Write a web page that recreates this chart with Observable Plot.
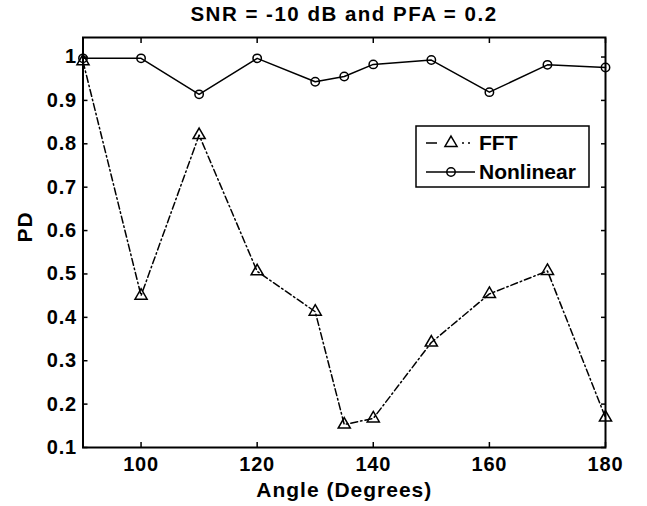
<!DOCTYPE html>
<html>
<head>
<meta charset="utf-8">
<script src="https://cdn.jsdelivr.net/npm/d3@7"></script>
<script src="https://cdn.jsdelivr.net/npm/@observablehq/plot@0.6"></script>
<style>
  html, body { margin: 0; padding: 0; background: #fff; }
  #wrap { position: relative; width: 647px; height: 506px; font-family: "Liberation Sans", Arial, sans-serif; font-weight: bold; color: #000; }
  #title { position: absolute; left: 44px; width: 600px; top: 0px; height: 28px; line-height: 27px; text-align: center; font-size: 20.5px; letter-spacing: 1.5px; white-space: nowrap; }
  #chart { position: absolute; left: 0; top: 28px; }
  #legend { position: absolute; left: 415px; top: 125px; }
  g[aria-label="x-axis tick label"] text, g[aria-label="y-axis tick label"] text { letter-spacing: 0.8px; }
  .axlabel text { letter-spacing: 1px; }
</style>
</head>
<body>
<div id="wrap">
  <div id="title"></div>
  <div id="chart"></div>
  <svg id="legend" width="176" height="64"></svg>
</div>
<script>
// ---- data ----
const angles = [90, 100, 110, 120, 130, 135, 140, 150, 160, 170, 180];
const fftPD = [0.99, 0.45, 0.82, 0.506, 0.413, 0.153, 0.167, 0.342, 0.454, 0.507, 0.169];
const nonlinearPD = [0.997, 0.997, 0.914, 0.997, 0.943, 0.955, 0.983, 0.993, 0.919, 0.982, 0.976];
const xTicks = [100, 120, 140, 160, 180];
const yTicks = [0.1, 0.2, 0.3, 0.4, 0.5, 0.6, 0.7, 0.8, 0.9, 1];
const seriesNames = ["FFT", "Nonlinear"];
const titleText = "SNR = -10 dB and PFA = 0.2";
const xLabel = "Angle (Degrees)";
const yLabel = "PD";

document.getElementById("title").textContent = titleText;

const fftData = angles.map((a, i) => ({angle: a, pd: fftPD[i]}));
const nlData = angles.map((a, i) => ({angle: a, pd: nonlinearPD[i]}));
const yFmt = d => d === 1 ? "1" : d3.format(".1f")(d);

const chart = Plot.plot({
  width: 647,
  height: 478,
  marginTop: 9,
  marginBottom: 59,
  marginLeft: 82.5,
  marginRight: 42,
  style: {fontFamily: '"Liberation Sans", Arial, sans-serif', fontWeight: "bold", fontSize: "20px", color: "black", background: "white"},
  x: {domain: [90, 180], axis: null},
  y: {domain: [0.1, 1.045], axis: null},
  marks: [
    // inward ticks on all four sides
    Plot.axisX(xTicks, {anchor: "bottom", tickSize: -5, tickFormat: () => "", label: null, strokeWidth: 1.5}),
    Plot.axisX(xTicks, {anchor: "top", tickSize: -5, tickFormat: () => "", label: null, strokeWidth: 1.5}),
    Plot.axisY(yTicks, {anchor: "left", tickSize: -5, tickFormat: () => "", label: null, strokeWidth: 1.5}),
    Plot.axisY(yTicks, {anchor: "right", tickSize: -5, tickFormat: () => "", label: null, strokeWidth: 1.5}),
    // tick labels
    Plot.axisX(xTicks, {anchor: "bottom", tickSize: 0, tickPadding: 9, label: null, fontSize: 20, fontWeight: "bold"}),
    Plot.axisY(yTicks, {anchor: "left", tickSize: 0, tickPadding: 6, tickFormat: yFmt, label: null, fontSize: 20, fontWeight: "bold"}),
    // axis titles
    Plot.text([xLabel], {frameAnchor: "bottom", dy: 43, text: d => d, fontSize: 21, fontWeight: "bold", lineAnchor: "middle", className: "axlabel"}),
    Plot.text([yLabel], {frameAnchor: "left", dx: -57.5, dy: 0, rotate: -90, text: d => d, fontSize: 21, fontWeight: "bold", className: "axlabel"}),
    // series
    Plot.line(nlData, {x: "angle", y: "pd", stroke: "black", strokeWidth: 1.5}),
    Plot.dot(nlData, {x: "angle", y: "pd", symbol: "circle", r: 4.2, stroke: "black", strokeWidth: 1.5, fill: "none"}),
    Plot.line(fftData, {x: "angle", y: "pd", stroke: "black", strokeWidth: 1.5, strokeDasharray: "7,3,1.5,3"}),
    Plot.dot(fftData, {x: "angle", y: "pd", symbol: "triangle", r: 4.5, stroke: "black", strokeWidth: 1.5, fill: "none"}),
    Plot.frame({stroke: "black", strokeWidth: 2})
  ]
});
document.getElementById("chart").appendChild(chart);

// legend (box with line samples)
const lg = d3.select("#legend");
lg.append("rect").attr("x", 1).attr("y", 1).attr("width", 173).attr("height", 61)
  .attr("fill", "white").attr("stroke", "black").attr("stroke-width", 1.5);
const rows = [
  {name: seriesNames[0], y: 18, dash: "11,25,2,4,2,20", sym: d3.symbolTriangle},
  {name: seriesNames[1], y: 47, dash: null, sym: d3.symbolCircle}
];
rows.forEach(r => {
  lg.append("line").attr("x1", 11).attr("x2", 60).attr("y1", r.y).attr("y2", r.y)
    .attr("stroke", "black").attr("stroke-width", 1.5).attr("stroke-dasharray", r.dash);
  lg.append("path").attr("d", d3.symbol(r.sym, r.sym === d3.symbolCircle ? Math.PI * 4.2 * 4.2 : Math.PI * 4.5 * 4.5)())
    .attr("transform", `translate(36,${r.y})`).attr("fill", r.sym === d3.symbolCircle ? "none" : "white")
    .attr("stroke", "black").attr("stroke-width", 1.5);
  lg.append("text").attr("x", 64).attr("y", r.y + 7).text(r.name)
    .attr("font-family", '"Liberation Sans", Arial, sans-serif').attr("font-weight", "bold").attr("font-size", 21);
});
</script>
</body>
</html>
